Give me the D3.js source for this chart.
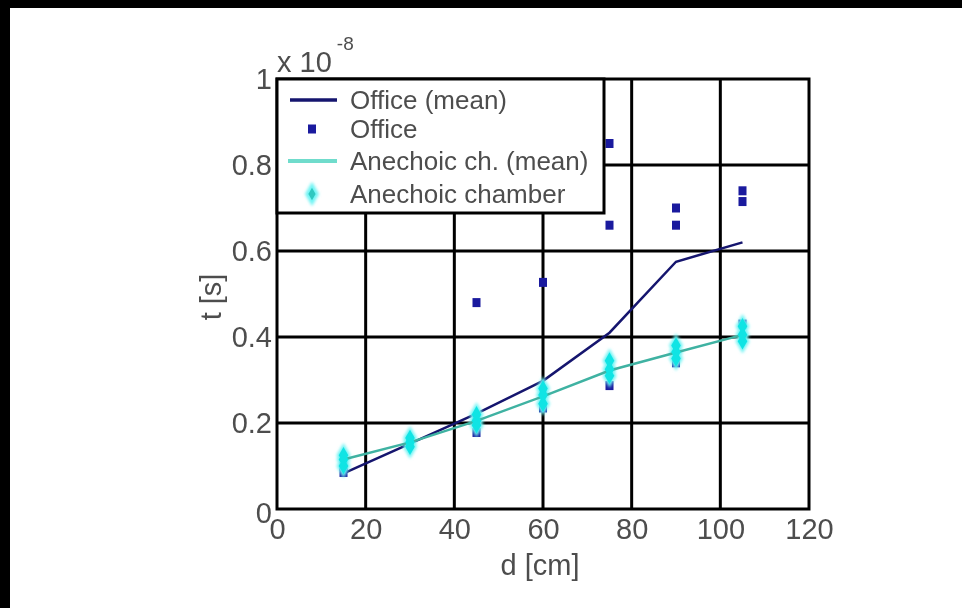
<!DOCTYPE html>
<html><head><meta charset="utf-8">
<script src="https://cdn.jsdelivr.net/npm/d3@7"></script>
<style>body{margin:0;background:#000;} svg{display:block}</style>
</head><body>
<script>
// ---- data ----
const xTicks = [0, 20, 40, 60, 80, 100, 120];
const yTicks = [0, 0.2, 0.4, 0.6, 0.8, 1];
const yTickLabels = ["0", "0.2", "0.4", "0.6", "0.8", "1"];
const distances = [15, 30, 45, 60, 75, 90, 105];
const officeMean = [0.083, 0.152, 0.222, 0.298, 0.41, 0.575, 0.62];
const anechoicMean = [0.115, 0.155, 0.205, 0.262, 0.322, 0.364, 0.405];
const officeD = [15, 15, 30, 30, 45, 45, 45, 60, 60, 60, 75, 75, 75, 90, 90, 90, 105, 105, 105];
const officeT = [0.085, 0.10, 0.15, 0.16, 0.48, 0.178, 0.21, 0.527, 0.235, 0.27, 0.85, 0.66, 0.287, 0.70, 0.66, 0.34, 0.74, 0.715, 0.43];
const anechoicD = [15, 15, 15, 30, 30, 30, 45, 45, 45, 60, 60, 60, 75, 75, 75, 90, 90, 90, 105, 105, 105];
const anechoicT = [0.10, 0.115, 0.125, 0.145, 0.155, 0.165, 0.195, 0.205, 0.22, 0.245, 0.265, 0.28, 0.31, 0.325, 0.345, 0.35, 0.365, 0.38, 0.39, 0.405, 0.425];
const legendLabels = ["Office (mean)", "Office", "Anechoic ch. (mean)", "Anechoic chamber"];
const xLabel = "d [cm]";
const yLabel = "t [s]";

// ---- drawing ----
const W = 962, H = 608;
const FONT = "'Liberation Sans', Arial, sans-serif";
const navyLine = "#15156e", navyMark = "#1a1a9e", tealLine = "#3fb2a2", cyanMark = "#10e4e4", txt = "#4e4e4e";

const svg = d3.select("body").append("svg").attr("width", W).attr("height", H);
const defs = svg.append("defs");
function mkFilter(id, sd) {
  defs.append("filter").attr("id", id).attr("filterUnits", "userSpaceOnUse")
    .attr("x", -2000).attr("y", -2000).attr("width", 5000).attr("height", 5000)
    .append("feGaussianBlur").attr("stdDeviation", sd);
}
mkFilter("soft", 1.5);
mkFilter("tsoft", 0.35);

svg.append("rect").attr("width", W).attr("height", H).attr("fill", "#000");
svg.append("rect").attr("x", 10).attr("y", 8).attr("width", W - 10).attr("height", H - 8).attr("fill", "#fff");

const x = d3.scaleLinear().domain([0, 120]).range([277, 809]);
const y = d3.scaleLinear().domain([0, 1]).range([509, 79]);

// grid
const grid = svg.append("g").attr("stroke", "#000").attr("stroke-width", 3);
grid.selectAll("line.v").data(xTicks.slice(1, -1)).join("line")
  .attr("x1", d => x(d)).attr("x2", d => x(d)).attr("y1", y(0)).attr("y2", y(1));
grid.selectAll("line.h").data(yTicks.slice(1, -1)).join("line").attr("class", "h")
  .attr("x1", x(0)).attr("x2", x(120)).attr("y1", d => y(d)).attr("y2", d => y(d));

// axes labels
const xAxis = svg.append("g").attr("transform", `translate(0,${y(0)})`)
  .call(d3.axisBottom(x).tickValues(xTicks).tickSize(0).tickPadding(9));
const yAxis = svg.append("g").attr("transform", `translate(${x(0)},0)`)
  .call(d3.axisLeft(y).tickValues(yTicks).tickSize(0).tickPadding(5).tickFormat((d, i) => yTickLabels[i]));
[xAxis, yAxis].forEach(a => {
  a.select(".domain").remove();
  a.selectAll("text").attr("font-family", FONT).attr("font-size", 29).attr("fill", txt).attr("filter", "url(#tsoft)");
});
yAxis.selectAll("text").filter((d) => d === 0).attr("dy", "0.45em");

// data: office
const lineGen = d3.line().x(d => x(d[0])).y(d => y(d[1]));
svg.append("path").datum(distances.map((d, i) => [d, officeMean[i]]))
  .attr("d", lineGen).attr("fill", "none").attr("stroke", navyLine).attr("stroke-width", 2.5);
svg.append("g").selectAll("rect").data(officeD.map((d, i) => [d, officeT[i]])).join("rect")
  .attr("x", d => x(d[0]) - 4).attr("y", d => y(d[1]) - 4.5).attr("width", 8).attr("height", 9).attr("fill", navyMark);

// data: anechoic
const halo = d3.symbol().type(d3.symbolDiamond).size(170);
const core = d3.symbol().type(d3.symbolDiamond).size(80);
const aPts = anechoicD.map((d, i) => [d, anechoicT[i]]);
svg.append("g").attr("filter", "url(#soft)").selectAll("path").data(aPts).join("path")
  .attr("transform", d => `translate(${x(d[0])},${y(d[1])})`).attr("d", halo).attr("fill", "#70f4f4");
svg.append("path").datum(distances.map((d, i) => [d, anechoicMean[i]]))
  .attr("d", lineGen).attr("fill", "none").attr("stroke", tealLine).attr("stroke-width", 2.5);
svg.append("g").selectAll("path").data(aPts).join("path")
  .attr("transform", d => `translate(${x(d[0])},${y(d[1])})`).attr("d", core).attr("fill", cyanMark);

// axes box
svg.append("rect").attr("x", x(0)).attr("y", y(1)).attr("width", x(120) - x(0)).attr("height", y(0) - y(1))
  .attr("fill", "none").attr("stroke", "#000").attr("stroke-width", 3);

// exponent
const ex = svg.append("text").attr("x", 277).attr("y", 72).attr("font-family", FONT).attr("font-size", 29).attr("fill", txt).attr("filter", "url(#tsoft)");
ex.append("tspan").text("x 10");
ex.append("tspan").attr("font-size", 19).attr("dy", -22).attr("dx", 5).text("-8");

// axis titles
svg.append("text").attr("x", 540).attr("y", 565).attr("text-anchor", "middle").attr("dominant-baseline", "central")
  .attr("font-family", FONT).attr("font-size", 29).attr("fill", txt).attr("filter", "url(#tsoft)").text(xLabel);
svg.append("text").attr("transform", "translate(211,297) rotate(-90)").attr("text-anchor", "middle").attr("dominant-baseline", "central")
  .attr("font-family", FONT).attr("font-size", 29).attr("fill", txt).attr("filter", "url(#tsoft)").text(yLabel);

// legend
const lg = svg.append("g");
lg.append("rect").attr("x", x(0)).attr("y", y(1)).attr("width", 327).attr("height", 134)
  .attr("fill", "#fff").attr("stroke", "#000").attr("stroke-width", 3);
const rowY = [100, 129, 161, 194];
lg.append("line").attr("x1", 290).attr("x2", 337).attr("y1", rowY[0]).attr("y2", rowY[0]).attr("stroke", navyLine).attr("stroke-width", 3.5);
lg.append("rect").attr("x", 308).attr("y", rowY[1] - 4.5).attr("width", 8).attr("height", 9).attr("fill", navyMark);
lg.append("line").attr("x1", 288).attr("x2", 337).attr("y1", rowY[2]).attr("y2", rowY[2]).attr("stroke", "#6fdccc").attr("stroke-width", 4).attr("filter", "url(#tsoft)");
lg.append("path").attr("transform", `translate(312,${rowY[3]})`).attr("d", halo).attr("fill", "#70f4f4").attr("filter", "url(#soft)");
lg.append("path").attr("transform", `translate(312,${rowY[3]})`).attr("d", d3.symbol().type(d3.symbolDiamond).size(45)).attr("fill", "#30c8c0");
lg.selectAll("text").data(legendLabels).join("text")
  .attr("x", 350).attr("y", (d, i) => rowY[i]).attr("dominant-baseline", "central")
  .attr("font-family", FONT).attr("font-size", 26).attr("fill", txt).attr("filter", "url(#tsoft)").text(d => d);
</script>
</body></html>
